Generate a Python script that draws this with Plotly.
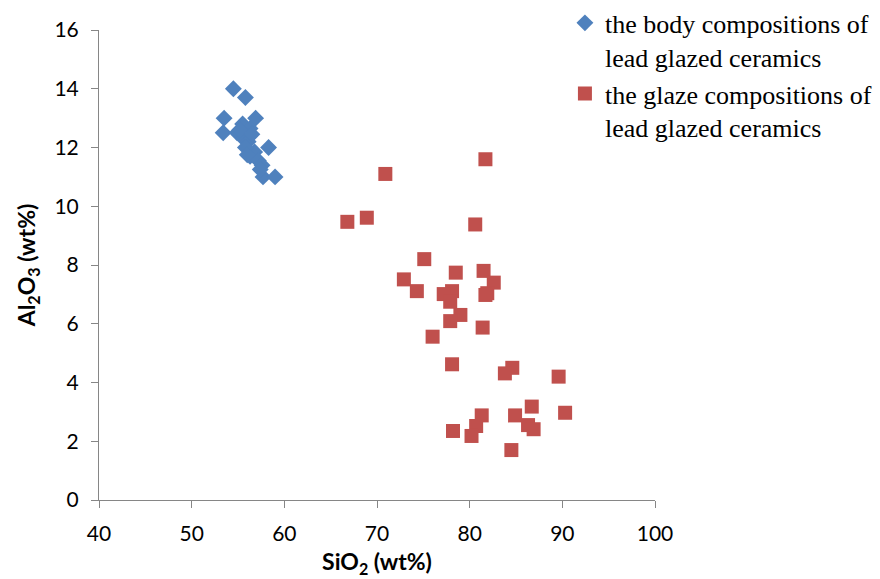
import plotly.graph_objects as go

body_sio2 = [54.5, 55.8, 53.5, 53.4, 56.9, 55.5, 54.9, 56.3, 55.6, 56.1, 58.3, 56.3, 56.8, 57.2, 57.6, 57.7, 59.0, 55.2, 55.8, 56.5, 57.4, 56.0]
body_al2o3 = [14.0, 13.7, 13.0, 12.5, 13.0, 12.8, 12.5, 12.65, 12.3, 12.2, 12.0, 11.7, 11.85, 11.55, 11.4, 11.0, 11.0, 12.6, 12.0, 12.45, 11.25, 11.75]

glaze_sio2 = [81.7, 70.9, 66.8, 68.9, 80.6, 75.1, 78.5, 81.5, 72.9, 82.6, 74.3, 78.1, 77.2, 81.9, 81.7, 77.9, 79.0, 77.9, 81.4, 76.0,
              78.1, 84.6, 83.8, 89.6, 86.7, 90.3, 84.9, 81.3, 80.7, 78.2, 80.2, 86.3, 86.9, 84.5]
glaze_al2o3 = [11.6, 11.1, 9.47, 9.61, 9.38, 8.2, 7.74, 7.8, 7.51, 7.4, 7.11, 7.11, 7.01, 7.04, 6.98, 6.75, 6.3, 6.09, 5.87, 5.56,
               4.62, 4.5, 4.31, 4.2, 3.18, 2.97, 2.88, 2.88, 2.52, 2.35, 2.18, 2.55, 2.41, 1.7]

x_ticks = [40, 50, 60, 70, 80, 90, 100]
y_ticks = [0, 2, 4, 6, 8, 10, 12, 14, 16]

fig = go.Figure()
fig.add_trace(go.Scatter(
    x=body_sio2, y=body_al2o3, mode="markers",
    name="the body compositions of<br>lead glazed ceramics",
    marker=dict(symbol="diamond", size=13, color="#4F81BD"),
))
fig.add_trace(go.Scatter(
    x=glaze_sio2, y=glaze_al2o3, mode="markers",
    name="the glaze compositions of<br>lead glazed ceramics",
    marker=dict(symbol="square", size=14, color="#C0504D"),
))

tick_font = dict(family="Lato, sans-serif", size=21, color="#000000")
title_font = dict(family="Lato, sans-serif", size=23, color="#000000")

axis_common = dict(
    showgrid=False, zeroline=False, showline=True, linecolor="#868686", linewidth=1,
    ticks="outside", ticklen=7, tickcolor="#868686",
    tickfont=tick_font, ticklabelstandoff=8,
)

fig.update_layout(
    width=880, height=579,
    margin=dict(l=99, r=225, t=30, b=79, autoexpand=False),
    paper_bgcolor="white", plot_bgcolor="white",
    xaxis=dict(range=[40, 100], tickvals=x_ticks,
               title=dict(text="<b>SiO<sub>2</sub> (wt%)</b>", standoff=9, font=title_font),
               **axis_common),
    yaxis=dict(range=[0, 16], tickvals=y_ticks,
               title=dict(text="<b>Al<sub>2</sub>O<sub>3</sub> (wt%)</b>", standoff=12, font=title_font),
               **axis_common),
    legend=dict(x=0.838, y=1.065, xanchor="left", yanchor="top", valign="top",
                font=dict(family="Liberation Serif, Times New Roman, serif", size=26, color="#000"),
                bgcolor="rgba(0,0,0,0)", itemwidth=30, tracegroupgap=12),
    showlegend=True,
)

fig.write_html("out.html")
